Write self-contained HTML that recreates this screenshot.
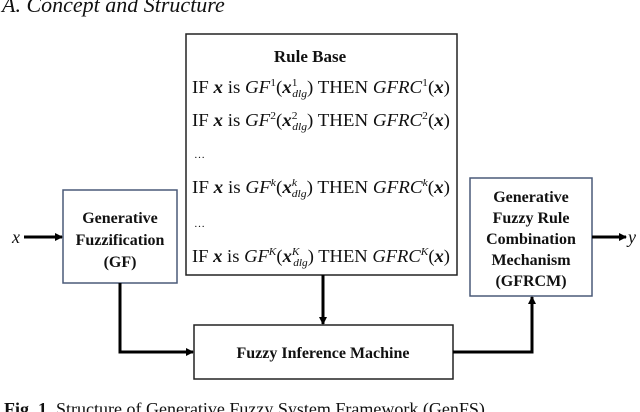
<!DOCTYPE html>
<html><head><meta charset="utf-8"><style>
html,body{margin:0;padding:0;background:#fff;width:640px;height:412px;overflow:hidden}
svg{display:block}
text{font-family:"Liberation Serif",serif;fill:#111}
.b{font-weight:bold}
.m{font-style:italic}
</style></head><body>
<svg width="640" height="412" viewBox="0 0 640 412" xmlns="http://www.w3.org/2000/svg">
<defs><marker id="a" markerWidth="8" markerHeight="8" refX="7" refY="4" orient="auto" markerUnits="userSpaceOnUse"><path d="M0,0 L8,4 L0,8 Z" fill="#000"/></marker></defs>
<text x="2" y="12" font-size="22" font-style="italic">A. Concept and Structure</text>

<rect x="186" y="34" width="271" height="241" fill="#fff" stroke="#222" stroke-width="1.5"/>
<text x="310" y="62" font-size="17" class="b" text-anchor="middle">Rule Base</text>
<g font-size="18">
<text x="192" y="93" textLength="258" lengthAdjust="spacingAndGlyphs">IF <tspan class="b m">x</tspan> is <tspan class="m">GF</tspan><tspan font-size="11" dy="-7">1</tspan><tspan dy="7">(</tspan><tspan class="b m">x</tspan><tspan font-size="11" dy="-7">1</tspan><tspan font-size="11" class="m" dx="-5" dy="11">dlg</tspan><tspan dy="-4">) THEN </tspan><tspan class="m">GFRC</tspan><tspan font-size="11" dy="-7">1</tspan><tspan dy="7">(</tspan><tspan class="b m">x</tspan>)</text>
<text x="192" y="126" textLength="258" lengthAdjust="spacingAndGlyphs">IF <tspan class="b m">x</tspan> is <tspan class="m">GF</tspan><tspan font-size="11" dy="-7">2</tspan><tspan dy="7">(</tspan><tspan class="b m">x</tspan><tspan font-size="11" dy="-7">2</tspan><tspan font-size="11" class="m" dx="-5" dy="11">dlg</tspan><tspan dy="-4">) THEN </tspan><tspan class="m">GFRC</tspan><tspan font-size="11" dy="-7">2</tspan><tspan dy="7">(</tspan><tspan class="b m">x</tspan>)</text>
<text x="194" y="158" font-size="11">…</text>
<text x="192" y="193" textLength="258" lengthAdjust="spacingAndGlyphs">IF <tspan class="b m">x</tspan> is <tspan class="m">GF</tspan><tspan font-size="11" class="m" dy="-7">k</tspan><tspan dy="7">(</tspan><tspan class="b m">x</tspan><tspan font-size="11" class="m" dy="-7">k</tspan><tspan font-size="11" class="m" dx="-5" dy="11">dlg</tspan><tspan dy="-4">) THEN </tspan><tspan class="m">GFRC</tspan><tspan font-size="11" class="m" dy="-7">k</tspan><tspan dy="7">(</tspan><tspan class="b m">x</tspan>)</text>
<text x="194" y="227" font-size="11">…</text>
<text x="192" y="262" textLength="258" lengthAdjust="spacingAndGlyphs">IF <tspan class="b m">x</tspan> is <tspan class="m">GF</tspan><tspan font-size="11" class="m" dy="-7">K</tspan><tspan dy="7">(</tspan><tspan class="b m">x</tspan><tspan font-size="11" class="m" dy="-7">K</tspan><tspan font-size="11" class="m" dx="-6" dy="11">dlg</tspan><tspan dy="-4">) THEN </tspan><tspan class="m">GFRC</tspan><tspan font-size="11" class="m" dy="-7">K</tspan><tspan dy="7">(</tspan><tspan class="b m">x</tspan>)</text>
</g>

<rect x="63" y="190" width="114" height="93" fill="#fff" stroke="#4a5a78" stroke-width="1.5"/>
<g font-size="16" class="b" text-anchor="middle">
<text x="120" y="223">Generative</text>
<text x="120" y="245">Fuzzification</text>
<text x="120" y="267">(GF)</text>
</g>

<rect x="470" y="178" width="122" height="118" fill="#fff" stroke="#4a5a78" stroke-width="1.5"/>
<g font-size="16" class="b" text-anchor="middle">
<text x="531" y="202">Generative</text>
<text x="531" y="223">Fuzzy Rule</text>
<text x="531" y="244">Combination</text>
<text x="531" y="265">Mechanism</text>
<text x="531" y="286">(GFRCM)</text>
</g>

<rect x="194" y="325" width="259" height="54" fill="#fff" stroke="#222" stroke-width="1.5"/>
<text x="323" y="358" font-size="16" class="b" text-anchor="middle">Fuzzy Inference Machine</text>

<g stroke="#000" stroke-width="3" fill="none">
<line x1="24" y1="237" x2="62" y2="237" marker-end="url(#a)"/>
<polyline points="120,283 120,352 193,352" marker-end="url(#a)"/>
<line x1="323" y1="275" x2="323" y2="324" marker-end="url(#a)"/>
<polyline points="453,352 532,352 532,297" marker-end="url(#a)"/>
<line x1="592" y1="237" x2="626" y2="237" marker-end="url(#a)"/>
</g>
<text x="12" y="243" font-size="18" class="m">x</text>
<text x="628" y="243" font-size="18" class="m">y</text>

<text x="4" y="415" font-size="18"><tspan class="b">Fig. 1.</tspan> Structure of Generative Fuzzy System Framework (GenFS)</text>
</svg>
</body></html>
